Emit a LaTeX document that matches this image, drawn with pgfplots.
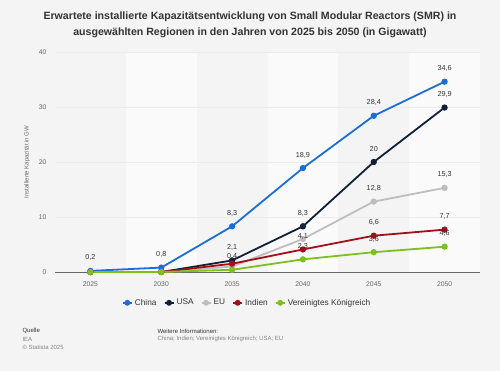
\documentclass[border=0pt]{standalone}
\usepackage{pgfplots}
\pgfplotsset{compat=1.18}
\usepackage{fontspec}
\setmainfont{Liberation Sans}
\definecolor{bg}{HTML}{F4F4F4}
\definecolor{band}{HTML}{FAFAFA}
\definecolor{cChina}{HTML}{1A6EDB}
\definecolor{cUSA}{HTML}{0F2038}
\definecolor{cEU}{HTML}{BEBEBE}
\definecolor{cIndien}{HTML}{A30E1A}
\definecolor{cUK}{HTML}{7DC11F}
\definecolor{txt}{HTML}{333333}
\definecolor{lbl}{HTML}{666666}
\begin{document}
\begin{tikzpicture}[x=1pt,y=1pt]
\fill[bg] (0,0) rectangle (500,371);
\node[font=\fontsize{10.6}{16}\selectfont\bfseries, text=txt, align=center] at (250,346) {Erwartete installierte Kapazitätsentwicklung von Small Modular Reactors (SMR) in\\ausgewählten Regionen in den Jahren von 2025 bis 2050 (in Gigawatt)};
\begin{axis}[
  at={(55pt,99pt)}, anchor=south west,
  scale only axis, width=425pt, height=220pt,
  xmin=2022.5, xmax=2052.5, ymin=0, ymax=40,
  xtick={2025,2030,2035,2040,2045,2050},
  ytick={0,10,20,30,40},
  xticklabel style={/pgf/number format/1000 sep=, font=\fontsize{6.8}{8}\selectfont, text=lbl, yshift=-6pt},
  yticklabel style={font=\fontsize{6.8}{8}\selectfont, text=lbl, xshift=-5pt},
  /pgf/number format/assume math mode=true,
  axis line style={draw=none},
  major tick length=0pt,
  ylabel={Installierte Kapazität in GW},
  ylabel style={font=\fontsize{6}{7}\selectfont, text=lbl, at={(axis description cs:-0.066,0.5)}, anchor=center},
  clip=false,
  legend style={at={(0.452,-0.14)}, anchor=center, draw=none, fill=none, legend columns=5, font=\fontsize{8.3}{10}\selectfont, text=txt, /tikz/every even column/.append style={column sep=5pt}},
  legend image code/.code={\draw[#1, line width=2pt] (0pt,0pt) -- (9pt,0pt); \fill[#1] (4.5pt,0pt) circle (2pt);},
  every axis plot/.append style={line width=1.8pt, mark=*, mark size=2.2pt},
  nodes near coords, point meta=explicit symbolic,
  every node near coord/.append style={font=\fontsize{7.2}{8}\selectfont, text=txt, anchor=center, yshift=13pt, inner sep=0pt},
]
\fill[band] (axis cs:2027.5,0) rectangle (axis cs:2032.5,40);
\fill[band] (axis cs:2037.5,0) rectangle (axis cs:2042.5,40);
\fill[band] (axis cs:2047.5,0) rectangle (axis cs:2052.5,40);
\draw[gray!15, line width=0.5pt] (axis cs:2022.5,10) -- (axis cs:2052.5,10);
\draw[gray!15, line width=0.5pt] (axis cs:2022.5,20) -- (axis cs:2052.5,20);
\draw[gray!15, line width=0.5pt] (axis cs:2022.5,30) -- (axis cs:2052.5,30);
\draw[gray!15, line width=0.5pt] (axis cs:2022.5,40) -- (axis cs:2052.5,40);
\draw[gray!80!black, line width=0.7pt] (axis cs:2022.5,0) -- (axis cs:2052.5,0);
\addplot[cChina, mark options={fill=cChina}] table[meta=l] {
x y l
2025 0.2 {0,2}
2030 0.8 {0,8}
2035 8.3 {8,3}
2040 18.9 {18,9}
2045 28.4 {28,4}
2050 34.6 {34,6}
};
\addplot[cUSA, mark options={fill=cUSA}] table[meta=l] {
x y l
2025 0 {}
2030 0 {}
2035 2.1 {2,1}
2040 8.3 {8,3}
2045 20 {20}
2050 29.9 {29,9}
};
\addplot[cEU, mark options={fill=cEU}] table[meta=l] {
x y l
2025 0 {}
2030 0 {}
2035 1.0 {}
2040 6.0 {6}
2045 12.8 {12,8}
2050 15.3 {15,3}
};
\addplot[cIndien, mark options={fill=cIndien}] table[meta=l] {
x y l
2025 0 {}
2030 0 {}
2035 1.5 {}
2040 4.1 {4,1}
2045 6.6 {6,6}
2050 7.7 {7,7}
};
\addplot[cUK, mark options={fill=cUK}] table[meta=l] {
x y l
2025 0 {}
2030 0 {}
2035 0.4 {0,4}
2040 2.3 {2,3}
2045 3.6 {3,6}
2050 4.6 {4,6}
};
\legend{China, USA, EU, Indien, Vereinigtes Königreich}
\end{axis}
\node[anchor=west, font=\fontsize{6}{7}\selectfont, text=txt] at (19,40) {Quelle};
\node[anchor=west, font=\fontsize{6}{7}\selectfont, text=lbl!80] at (19,32) {IEA};
\node[anchor=west, font=\fontsize{6}{7}\selectfont, text=lbl!80] at (19,24) {© Statista 2025};
\node[anchor=west, font=\fontsize{6}{7}\selectfont, text=txt] at (154,40) {Weitere Informationen:};
\node[anchor=west, font=\fontsize{6}{7}\selectfont, text=lbl!80] at (154,32) {China; Indien; Vereinigtes Königreich; USA; EU};
\end{tikzpicture}
\end{document}
